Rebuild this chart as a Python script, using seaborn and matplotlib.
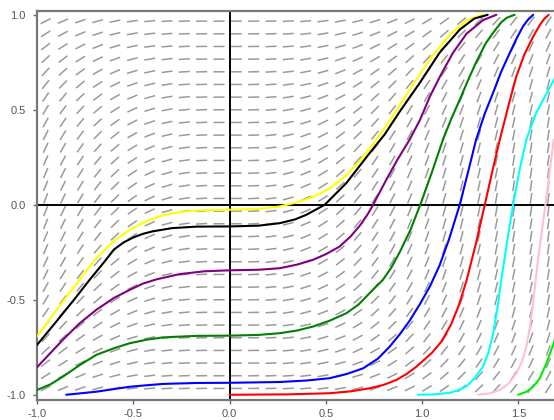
import numpy as np
import matplotlib
matplotlib.use("Agg")
import matplotlib.pyplot as plt
from matplotlib.collections import LineCollection
import seaborn as sns

# ---- solution curves ----
yellow_x = [-1.0, -0.9, -0.779, -0.692, -0.6, -0.519, -0.43, -0.346, -0.25, -0.15, 0.0, 0.15, 0.26, 0.346, 0.43, 0.519, 0.6, 0.68, 0.753, 0.83, 0.9, 0.97, 1.05, 1.143, 1.23, 1.31]
yellow_y = [-0.694, -0.555, -0.395, -0.28, -0.19, -0.132, -0.085, -0.055, -0.037, -0.029, -0.026, -0.022, -0.009, 0.012, 0.04, 0.085, 0.15, 0.235, 0.33, 0.44, 0.55, 0.66, 0.78, 0.895, 0.97, 1.0]

black_x = [-1.0, -0.9, -0.8, -0.727, -0.65, -0.6, -0.55, -0.5, -0.45, -0.4, -0.3, -0.173, 0.0, 0.15, 0.26, 0.34, 0.398, 0.494, 0.606, 0.727, 0.805, 0.883, 0.987, 1.09, 1.195, 1.27, 1.34]
black_y = [-0.738, -0.615, -0.49, -0.395, -0.30, -0.235, -0.198, -0.172, -0.153, -0.14, -0.123, -0.115, -0.114, -0.11, -0.097, -0.077, -0.053, 0.0, 0.114, 0.272, 0.37, 0.49, 0.641, 0.80, 0.922, 0.98, 1.0]

purple_x = [-1.0, -0.93, -0.866, -0.78, -0.692, -0.6, -0.519, -0.45, -0.381, -0.26, -0.13, 0.0, 0.15, 0.26, 0.35, 0.433, 0.5, 0.571, 0.63, 0.68, 0.72, 0.745, 0.814, 0.87, 0.935, 0.99, 1.04, 1.1, 1.16, 1.23, 1.316, 1.385]
purple_y = [-0.855, -0.78, -0.711, -0.625, -0.553, -0.49, -0.448, -0.415, -0.393, -0.365, -0.35, -0.345, -0.342, -0.334, -0.315, -0.29, -0.26, -0.22, -0.165, -0.105, -0.045, 0.0, 0.132, 0.235, 0.343, 0.45, 0.57, 0.69, 0.8, 0.9, 0.972, 1.0]

green_x = [-1.0, -0.93, -0.866, -0.78, -0.692, -0.6, -0.519, -0.43, -0.346, -0.173, 0.0, 0.15, 0.26, 0.35, 0.433, 0.52, 0.606, 0.67, 0.727, 0.796, 0.84, 0.883, 0.94, 0.99, 1.05, 1.108, 1.15, 1.195, 1.24, 1.28, 1.33, 1.368, 1.41, 1.44, 1.48]
green_y = [-0.975, -0.945, -0.905, -0.845, -0.79, -0.755, -0.729, -0.71, -0.698, -0.69, -0.689, -0.685, -0.676, -0.662, -0.641, -0.61, -0.571, -0.525, -0.465, -0.395, -0.33, -0.25, -0.13, 0.0, 0.17, 0.343, 0.45, 0.553, 0.66, 0.75, 0.85, 0.905, 0.96, 0.985, 1.0]

blue_x = [-0.848, -0.77, -0.692, -0.6, -0.519, -0.43, -0.346, -0.173, 0.0, 0.26, 0.4, 0.519, 0.61, 0.693, 0.77, 0.831, 0.885, 0.935, 0.99, 1.04, 1.09, 1.14, 1.195, 1.24, 1.28, 1.325, 1.368, 1.41, 1.455, 1.49, 1.524, 1.55, 1.576]
blue_y = [-1.0, -0.992, -0.984, -0.97, -0.958, -0.95, -0.943, -0.938, -0.937, -0.933, -0.925, -0.913, -0.89, -0.861, -0.81, -0.747, -0.68, -0.61, -0.52, -0.43, -0.32, -0.18, 0.0, 0.18, 0.343, 0.48, 0.589, 0.70, 0.8, 0.875, 0.94, 0.975, 1.0]

red_x = [0.0, 0.3, 0.519, 0.63, 0.727, 0.8, 0.866, 0.92, 0.97, 1.05, 1.10, 1.15, 1.19, 1.23, 1.28, 1.325, 1.365, 1.403, 1.45, 1.489, 1.53, 1.576, 1.61, 1.635, 1.657]
red_y = [-1.0, -0.998, -0.992, -0.982, -0.966, -0.948, -0.922, -0.89, -0.852, -0.78, -0.72, -0.63, -0.53, -0.40, -0.2, 0.0, 0.18, 0.343, 0.53, 0.676, 0.79, 0.885, 0.945, 0.98, 1.0]

cyan_x = [0.978, 1.06, 1.143, 1.19, 1.23, 1.27, 1.316, 1.345, 1.368, 1.39, 1.41, 1.44, 1.472, 1.505, 1.541, 1.59, 1.645, 1.69]
cyan_y = [-1.0, -0.998, -0.99, -0.975, -0.955, -0.915, -0.852, -0.775, -0.68, -0.55, -0.40, -0.2, 0.0, 0.18, 0.343, 0.48, 0.585, 0.67]

pink_x = [1.29, 1.35, 1.403, 1.45, 1.489, 1.52, 1.541, 1.56, 1.578, 1.6, 1.64, 1.683]
pink_y = [-1.0, -0.993, -0.975, -0.94, -0.887, -0.82, -0.747, -0.64, -0.5, -0.3, 0.0, 0.343]

lime_x = [1.498, 1.54, 1.576, 1.61, 1.645, 1.683, 1.70]
lime_y = [-1.0, -0.985, -0.958, -0.915, -0.834, -0.729, -0.66]

curves = [
    (yellow_x, yellow_y, "#ffff00"),
    (black_x, black_y, "#000000"),
    (purple_x, purple_y, "#800080"),
    (green_x, green_y, "#008000"),
    (blue_x, blue_y, "#0000ff"),
    (red_x, red_y, "#ff0000"),
    (cyan_x, cyan_y, "#00ffff"),
    (pink_x, pink_y, "#ffc0cb"),
    (lime_x, lime_y, "#00ee00"),
]

x_ticks = [-1.0, -0.5, 0.0, 0.5, 1.0, 1.5]
y_ticks = [-1.0, -0.5, 0.0, 0.5, 1.0]
x_tick_labels = ["-1.0", "-0.5", "0.0", "0.5", "1.0", "1.5"]
y_tick_labels = ["-1.0", "-0.5", "0.0", "0.5", "1.0"]

# direction field: dy/dx = amp * x^2 * exp(-width * y^2)
field_amp = 2.8
field_width = 1.7
x_range = (-1.0, 1.7)
y_range = (-1.0, 1.0)
n_cols, n_rows = 30, 30


def slope(x, y):
    return field_amp * x ** 2 * np.exp(-field_width * y ** 2)


sns.set_style("white")
plt.rcParams["font.family"] = ["Liberation Sans", "DejaVu Sans"]
plt.rcParams["axes.unicode_minus"] = False

fig = plt.figure(figsize=(5.54, 4.20), dpi=100)
ax = fig.add_axes([37 / 554, 20.5 / 420, (557 - 37) / 554, (409 - 20.5) / 420])
ax.set_xlim(-1.0, 1.7)
ax.set_ylim(-1.025, 1.02)

px_x = ax.get_position().width * 554 / (1.7 - (-1.0))
px_y = ax.get_position().height * 420 / (1.02 + 1.025)
dash_len = 11.0

cx = x_range[0] + (np.arange(n_cols) + 0.5) * (x_range[1] - x_range[0]) / n_cols
cy = y_range[0] + (np.arange(n_rows) + 0.5) * (y_range[1] - y_range[0]) / n_rows
segs = []
for xx in cx:
    for yy in cy:
        s = slope(xx, yy)
        vx, vy = 1.0, s * px_y / px_x
        n = np.hypot(vx, vy)
        dx = dash_len / 2 * vx / n / px_x
        dy = dash_len / 2 * vy / n / px_y
        segs.append([(xx - dx, yy - dy), (xx + dx, yy + dy)])
ax.add_collection(LineCollection(segs, colors="#9a9a9a", linewidths=1.1, zorder=1))

ax.axhline(0, color="black", lw=1.4, zorder=2)
ax.axvline(0, color="black", lw=1.4, zorder=2)

for xs, ys, col in curves:
    sns.lineplot(x=xs, y=ys, color=col, sort=False, estimator=None, lw=1.5, ax=ax, zorder=3)

ax.set_xticks(x_ticks)
ax.set_xticklabels(x_tick_labels)
ax.set_yticks(y_ticks)
ax.set_yticklabels(y_tick_labels)
ax.tick_params(axis="both", length=3, width=1, color="#666666", labelcolor="#555555", labelsize=8)
ax.tick_params(axis="y", pad=5)
ax.tick_params(axis="x", pad=4)
ax.tick_params(axis="both", bottom=True, left=True)
for side in ["top", "left", "bottom", "right"]:
    ax.spines[side].set_color("#777777")
    ax.spines[side].set_linewidth(1.6)

fig.savefig("out.png", dpi=100)
